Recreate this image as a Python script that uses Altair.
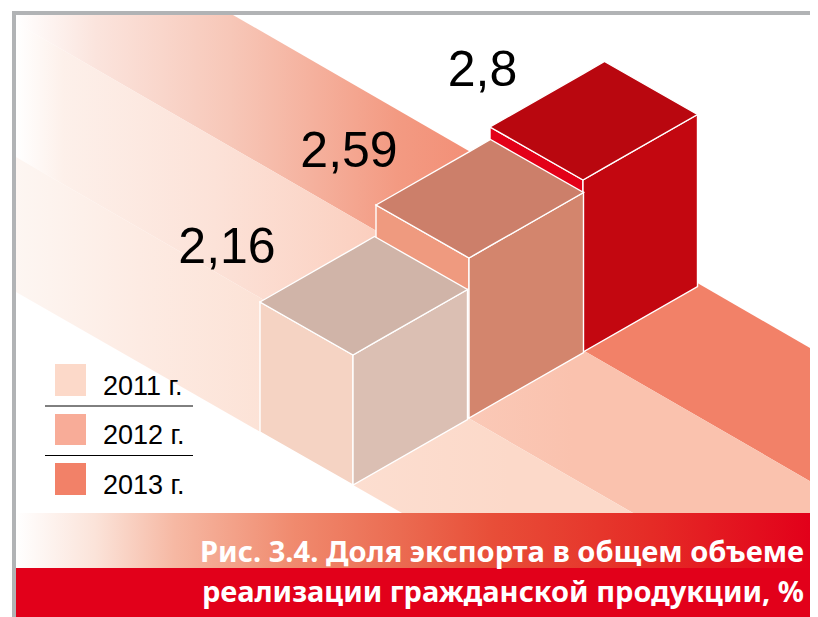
import altair as alt
import pandas as pd

# ---- chart content ----
years = ["2011 г.", "2012 г.", "2013 г."]
values = ["2,16", "2,59", "2,8"]
title_lines = ["Рис. 3.4. Доля экспорта в общем объеме", "реализации гражданской продукции, %"]
swatch_colors = ["#FCD9C9", "#F8AC98", "#F28168"]
stripe_end_colors = ["#FCD9C9", "#FAC2AE", "#F28168"]
left_colors = ["#F5D3C3", "#EF9A7F", "#E30018"]
right_colors = ["#DBBFB3", "#D3856D", "#C30710"]
top_colors = ["#D0B4A8", "#CC7F6A", "#B9070F"]

# ---- sketch geometry, in picture units ----
box_front_x = [353, 469, 583]
box_base_y = [485, 418, 352]
box_height = [130, 160, 172]
to_left = (-93, -53)
to_right = (114.5, -65.5)
value_x = [227, 349, 482.5]
value_y = [263, 167, 86]
legend_y = [395, 444, 494]
swatch_y = [(364, 396), (414, 445), (463, 495)]
legend_rule_y = [406, 455.5]

RIGHT = 810
xs = alt.Scale(domain=[8, RIGHT], nice=False, zero=False)
ys = alt.Scale(domain=[617, 8], nice=False, zero=False)


def envelope(poly):
    n = len(poly)
    rows = []
    for x in sorted({p[0] for p in poly}):
        hits = []
        for i in range(n):
            (x0, y0), (x1, y1) = poly[i], poly[(i + 1) % n]
            if min(x0, x1) <= x <= max(x0, x1):
                if x0 == x1:
                    hits += [y0, y1]
                else:
                    hits.append(y0 + (y1 - y0) * (x - x0) / (x1 - x0))
        rows.append({"x": x, "y": min(hits), "y2": max(hits)})
    return pd.DataFrame(rows)


def shape(poly, fill, stroke=None, sw=1.4):
    kw = {"stroke": stroke, "strokeWidth": sw, "strokeJoin": "miter"} if stroke else {"strokeWidth": 0}
    return alt.Chart(envelope(poly)).mark_area(fill=fill, interpolate="linear", **kw).encode(
        x=alt.X("x:Q", scale=xs, axis=None),
        y=alt.Y("y:Q", scale=ys, axis=None, stack=None),
        y2="y2:Q",
    )


def fade(stops):
    return alt.Gradient(gradient="linear", x1=0, y1=0, x2=1, y2=0,
                        stops=[alt.GradientStop(offset=o, color=c) for o, c in stops])


def text_layer(rows, font, size, color, align="right", weight="normal"):
    return alt.Chart(pd.DataFrame(rows)).mark_text(
        font=font, fontSize=size, color=color, align=align, baseline="alphabetic", fontWeight=weight
    ).encode(
        x=alt.X("x:Q", scale=xs, axis=None),
        y=alt.Y("y:Q", scale=ys, axis=None),
        text="t:N",
    )


layers = []

# stripes (the right edge is cut at the plot's edge)
slope = 0.577
stripe_a = [(16, 15), (233, 15), (RIGHT, 15 + slope * (RIGHT - 233)), (RIGHT, 23 + slope * (RIGHT - 16)), (16, 23)]
stripe_b = [(16, 23), (RIGHT, 23 + slope * (RIGHT - 16)), (RIGHT, 513), (633, 513), (16, 157)]
stripe_c = [(16, 157), (633, 513), (402, 513), (16, 292)]
layers.append(shape(stripe_a, fade([(0, "#FFFFFF"), (0.1, "#FBE4DD"), (0.27, "#F7C7B8"), (0.48, "#F39A82"), (0.7, stripe_end_colors[2])])))
layers.append(shape(stripe_b, fade([(0, "#FFFFFF"), (0.06, "#FDF0EA"), (0.25, "#FCE2D8"), (0.45, "#FBCFBF"), (0.7, stripe_end_colors[1])])))
layers.append(shape(stripe_c, fade([(0, "#FDF6F2"), (0.2, "#FDEBE3"), (0.45, "#FCE0D3"), (0.8, stripe_end_colors[0])])))

# boxes, back to front
for i in [2, 1, 0]:
    fx, by, h = box_front_x[i], box_base_y[i], box_height[i]
    ty = by - h
    L = (fx + to_left[0], ty + to_left[1])
    R = (fx + to_right[0], ty + to_right[1])
    B = (fx + to_left[0] + to_right[0], ty + to_left[1] + to_right[1])
    F = (fx, ty)
    layers.append(shape([L, F, (fx, by), (L[0], L[1] + h)], left_colors[i], "#FFFFFF"))
    layers.append(shape([F, R, (R[0], R[1] + h), (fx, by)], right_colors[i], "#FFFFFF"))
    layers.append(shape([L, B, R, F], top_colors[i], "#FFFFFF"))

# banner
layers.append(shape([(16, 513), (RIGHT, 513), (RIGHT, 568), (16, 568)], fade([
    (0, "#FFFFFF"), (0.1, "#FBE3D9"), (0.2, "#F6B8A3"), (0.35, "#F08A6E"), (0.48, "#EB6C52"),
    (0.6, "#E84E38"), (0.8, "#E52B26"), (1, "#E2001A")])))
layers.append(shape([(16, 568), (RIGHT, 568), (RIGHT, 617), (16, 617)], "#E2001A"))

# frame
layers.append(shape([(12, 11), (RIGHT, 11), (RIGHT, 15), (12, 15)], "#B1B3B5"))
layers.append(shape([(12, 11), (16, 11), (16, 617), (12, 617)], "#B1B3B5"))

# legend
for (y0, y1), c in zip(swatch_y, swatch_colors):
    layers.append(shape([(55, y0), (86, y0), (86, y1), (55, y1)], c))
layers.append(alt.Chart(pd.DataFrame({"x": [45, 45], "x2": [193, 193], "y": legend_rule_y})).mark_rule(color="#000000", strokeWidth=1).encode(
    x=alt.X("x:Q", scale=xs, axis=None), x2="x2:Q", y=alt.Y("y:Q", scale=ys, axis=None)))
layers.append(text_layer([{"x": 103, "y": y, "t": t} for y, t in zip(legend_y, years)],
                         "Liberation Sans", 27, "#000000", align="left"))

# values
layers.append(text_layer([{"x": x, "y": y, "t": t} for x, y, t in zip(value_x, value_y, values)],
                         "Liberation Sans", 50, "#000000", align="center"))

# title
layers.append(text_layer([{"x": 804, "y": 562, "t": title_lines[0]}], "Noto Sans", 29.1, "#FFFFFF", weight="bold"))
layers.append(text_layer([{"x": 804, "y": 602, "t": title_lines[1]}], "Noto Sans", 29.0, "#FFFFFF", weight="bold"))

chart = alt.layer(*layers).properties(
    width=802, height=609, padding=0, background="#FFFFFF",
    autosize=alt.AutoSizeParams(type="none"),
).configure_view(stroke=None)

chart.save("out.html", embed_options={"renderer": "svg", "actions": False})
